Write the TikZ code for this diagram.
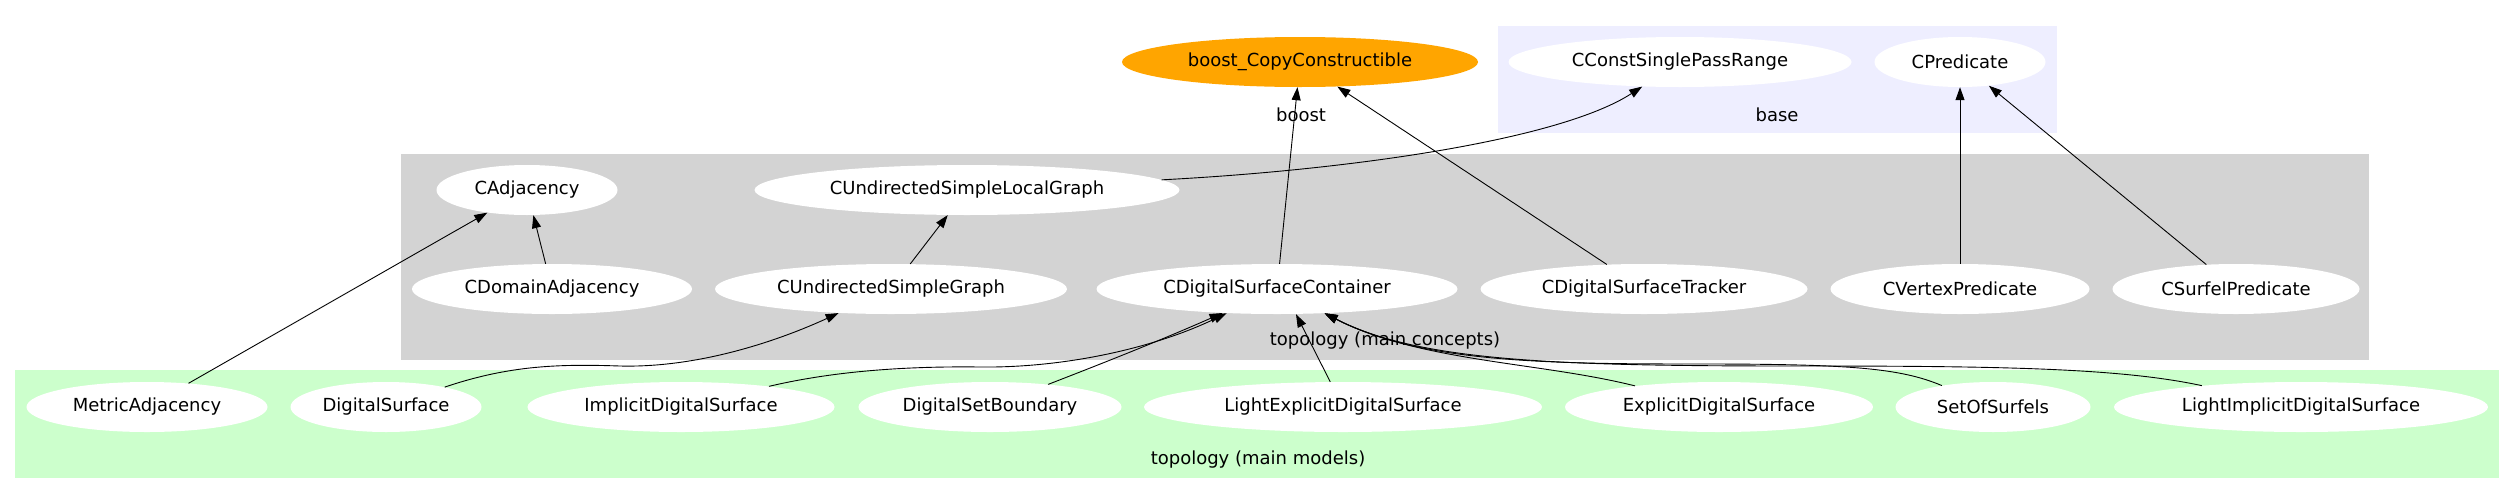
\documentclass[tikz,border=0pt]{standalone}
\usepackage{fontspec}
\setmainfont{DejaVu Sans}
\usetikzlibrary{shapes.geometric,arrows.meta}
\definecolor{basebg}{HTML}{EEEEFF}
\definecolor{conbg}{HTML}{D3D3D3}
\definecolor{modbg}{HTML}{CCFFCC}
\definecolor{boostfill}{HTML}{FFA500}
\begin{document}
\begin{tikzpicture}[x=1pt,y=-1pt,
  every node/.style={font=\fontsize{18}{20}\selectfont},
  cls/.style={ellipse, fill=white, inner sep=0pt, minimum height=50pt},
  edge/.style={-{Triangle[length=13pt,width=9pt]}, line width=0.9pt},
  clabel/.style={inner sep=0pt}]
\useasboundingbox (0,0) rectangle (2515,493);
\fill[white] (0,0) rectangle (2515,493);
% clusters
\fill[basebg] (1498,26) rectangle (2057,133);
\fill[conbg] (401,154) rectangle (2369,360);
\fill[modbg] (15,370) rectangle (2499,478);
% top row
\node[cls, fill=boostfill, minimum width=356pt] (boost) at (1300,62) {boost\_CopyConstructible};
\node[cls, minimum width=343pt] (ccspr) at (1680,62) {CConstSinglePassRange};
\node[cls, minimum width=171pt] (cpred) at (1960,62) {CPredicate};
% concepts
\node[cls, minimum width=181pt] (cadj) at (527,190) {CAdjacency};
\node[cls, minimum width=425pt] (cuslg) at (967,190) {CUndirectedSimpleLocalGraph};
\node[cls, minimum width=280pt] (cdadj) at (552,289) {CDomainAdjacency};
\node[cls, minimum width=352pt] (cusg) at (891,289) {CUndirectedSimpleGraph};
\node[cls, minimum width=361pt] (cdsc) at (1277,289) {CDigitalSurfaceContainer};
\node[cls, minimum width=327pt] (cdst) at (1644,289) {CDigitalSurfaceTracker};
\node[cls, minimum width=259pt] (cvp) at (1960,289) {CVertexPredicate};
\node[cls, minimum width=247pt] (csp) at (2236,289) {CSurfelPredicate};
% models
\node[cls, minimum width=241pt] (madj) at (147,407) {MetricAdjacency};
\node[cls, minimum width=191pt] (ds) at (386,407) {DigitalSurface};
\node[cls, minimum width=307pt] (ids) at (681,407) {ImplicitDigitalSurface};
\node[cls, minimum width=263pt] (dsb) at (990,407) {DigitalSetBoundary};
\node[cls, minimum width=398pt] (leds) at (1343,407) {LightExplicitDigitalSurface};
\node[cls, minimum width=308pt] (eds) at (1719,407) {ExplicitDigitalSurface};
\node[cls, minimum width=195pt] (sos) at (1993,407) {SetOfSurfels};
\node[cls, minimum width=374pt] (lids) at (2301,407) {LightImplicitDigitalSurface};
% cluster labels
\node[clabel] (lboost) at (1301,115) {boost};
\node[clabel] (lbase) at (1777,115) {base};
\node[clabel] (lcon) at (1385,341) {topology (main concepts)};
\node[clabel] (lmod) at (1258,460) {topology (main models)};
% edges
\draw[edge] (madj) -- (cadj);
\draw[edge] (cdadj) -- (cadj);
\draw[edge] (cusg) -- (cuslg);
\draw[edge] (cuslg) .. controls (1350,170) and (1560,140) .. (ccspr);
\draw[edge] (cdsc) -- (boost);
\draw[edge] (cdst) -- (boost);
\draw[edge] (cvp) -- (cpred);
\draw[edge] (csp) -- (cpred);
\draw[edge] (ds) .. controls (510,365) and (560,364) .. (620,366) .. controls (700,368) and (780,340) .. (cusg);
\draw[edge] (ids) .. controls (830,372) and (900,366) .. (980,367) .. controls (1060,368) and (1150,350) .. (cdsc);
\draw[edge] (dsb) .. controls (1080,372) and (1150,345) .. (cdsc);
\draw[edge] (leds) -- ([xshift=19pt]cdsc.south);
\draw[edge] (eds) .. controls (1540,362) and (1420,362) .. (cdsc);
\draw[edge] (sos) .. controls (1900,368) and (1850,364) .. (1700,364) .. controls (1540,364) and (1420,362) .. (cdsc);
\draw[edge] (lids) .. controls (2120,368) and (2000,366) .. (1800,366) .. controls (1560,366) and (1420,362) .. (cdsc);
\end{tikzpicture}
\end{document}
